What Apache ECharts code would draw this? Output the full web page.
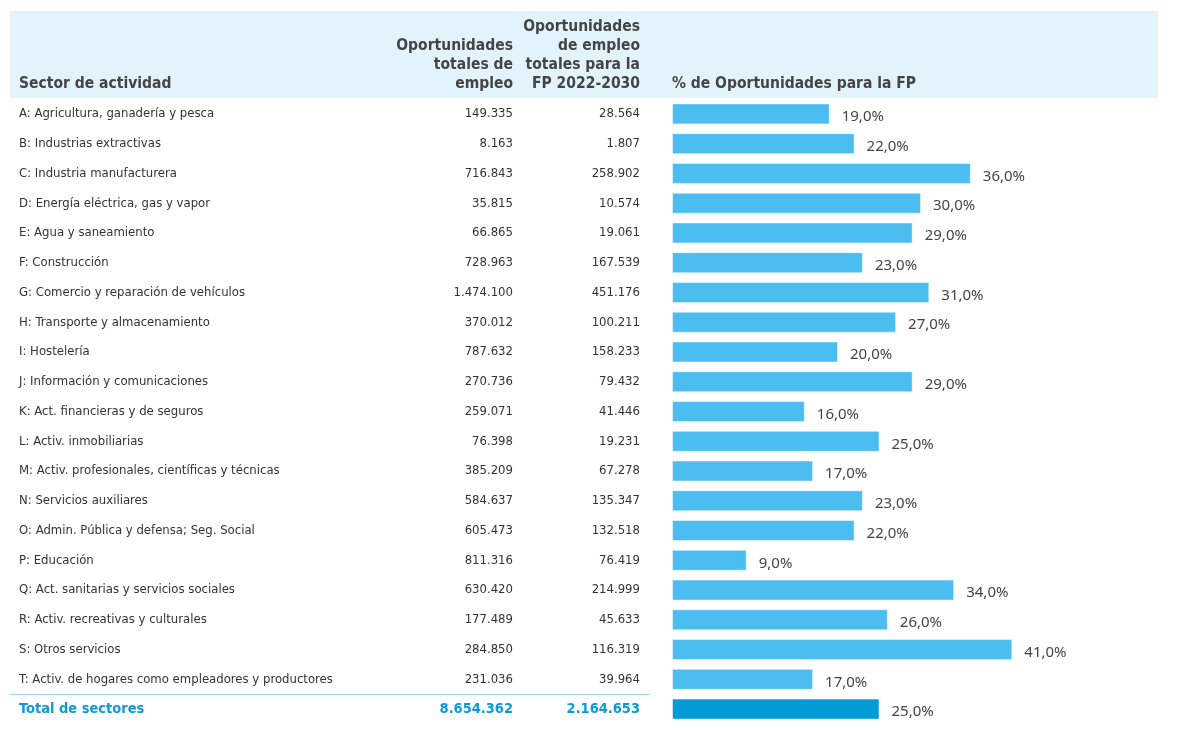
<!DOCTYPE html>
<html>
<head>
<meta charset="utf-8">
<script src="https://cdn.jsdelivr.net/npm/echarts@6/dist/echarts.min.js"></script>
<style>
  html, body { margin: 0; padding: 0; background: #fff; }
  #chart { width: 1180px; height: 732px; }
</style>
</head>
<body>
<div id="chart"></div>
<script>
// table data
var sectors = [
  'A: Agricultura, ganadería y pesca',
  'B: Industrias extractivas',
  'C: Industria manufacturera',
  'D: Energía eléctrica, gas y vapor',
  'E: Agua y saneamiento',
  'F: Construcción',
  'G: Comercio y reparación de vehículos',
  'H: Transporte y almacenamiento',
  'I: Hostelería',
  'J: Información y comunicaciones',
  'K: Act. financieras y de seguros',
  'L: Activ. inmobiliarias',
  'M: Activ. profesionales, científicas y técnicas',
  'N: Servicios auxiliares',
  'O: Admin. Pública y defensa; Seg. Social',
  'P: Educación',
  'Q: Act. sanitarias y servicios sociales',
  'R: Activ. recreativas y culturales',
  'S: Otros servicios',
  'T: Activ. de hogares como empleadores y productores',
  'Total de sectores'
];
var totalEmpleo = [
  '149.335', '8.163', '716.843', '35.815', '66.865', '728.963', '1.474.100',
  '370.012', '787.632', '270.736', '259.071', '76.398', '385.209', '584.637',
  '605.473', '811.316', '630.420', '177.489', '284.850', '231.036', '8.654.362'
];
var empleoFP = [
  '28.564', '1.807', '258.902', '10.574', '19.061', '167.539', '451.176',
  '100.211', '158.233', '79.432', '41.446', '19.231', '67.278', '135.347',
  '132.518', '76.419', '214.999', '45.633', '116.319', '39.964', '2.164.653'
];
var pctFP = [19, 22, 36, 30, 29, 23, 31, 27, 20, 29, 16, 25, 17, 23, 22, 9, 34, 26, 41, 17, 25];

var tableFont = '"DejaVu Sans Condensed", "Liberation Sans Narrow", sans-serif';
var textColor = '#333';
var headColor = '#444';
var totalColor = '#0e9ad7';
var lastIdx = sectors.length - 1;

function cells(list, align) {
  return list.map(function (v, i) {
    if (i === lastIdx) {
      return {
        value: v,
        textStyle: { color: totalColor, fontWeight: 'bold', fontSize: 14.5, align: align }
      };
    }
    return v;
  });
}

function labelAxis(list, margin, align) {
  return {
    type: 'category',
    inverse: true,
    position: 'left',
    data: cells(list, align),
    axisLine: { show: false },
    axisTick: { show: false },
    splitLine: { show: false },
    axisLabel: {
      margin: margin,
      align: align,
      color: textColor,
      fontFamily: tableFont,
      fontSize: 13,
      interval: 0
    }
  };
}

function headText(x, y, txt, align) {
  return {
    type: 'text', x: x, y: y, z: 10,
    style: {
      text: txt, align: align, verticalAlign: 'bottom',
      font: 'bold 15.5px ' + tableFont, fill: headColor, lineHeight: 19
    }
  };
}

var chart = echarts.init(document.getElementById('chart'));
var gridLeft = 672;

var option = {
  animation: false,
  grid: { left: gridLeft, width: 415, top: 99, height: 625, outerBoundsMode: 'none', containLabel: false },
  xAxis: {
    type: 'value', min: 0, max: 50, show: false
  },
  yAxis: [
    labelAxis(sectors, gridLeft - 19, 'left'),
    labelAxis(totalEmpleo, gridLeft - 513, 'right'),
    labelAxis(empleoFP, gridLeft - 640, 'right')
  ],
  graphic: [
    {
      type: 'rect', z: -10,
      shape: { x: 10, y: 11, width: 1148, height: 87 },
      style: { fill: '#e2f3fc' }
    },
    {
      type: 'line', z: 5,
      shape: { x1: 10, y1: 694.5, x2: 650, y2: 694.5 },
      style: { stroke: '#9fd8f4', lineWidth: 1 }
    },
    headText(19, 93, 'Sector de actividad', 'left'),
    headText(513, 93, 'Oportunidades\ntotales de\nempleo', 'right'),
    headText(640, 93, 'Oportunidades\nde empleo\ntotales para la\nFP 2022-2030', 'right'),
    headText(672, 93, '% de Oportunidades para la FP', 'left')
  ],
  series: [{
    type: 'bar',
    yAxisIndex: 0,
    barWidth: 21,
    data: pctFP.map(function (v, i) {
      return {
        value: v,
        itemStyle: { color: i === lastIdx ? '#019bd8' : '#4bbdf0' }
      };
    }),
    itemStyle: { borderColor: 'rgba(255,255,255,0.5)', borderWidth: 1 },
    label: {
      show: true,
      position: 'right',
      distance: 12,
      offset: [0, 3],
      color: '#444',
      fontFamily: '"Noto Sans", "Open Sans", sans-serif',
      fontSize: 15,
      formatter: function (p) {
        return p.value.toFixed(1).replace('.', ',') + '%';
      }
    }
  }]
};

chart.setOption(option);
</script>
</body>
</html>
